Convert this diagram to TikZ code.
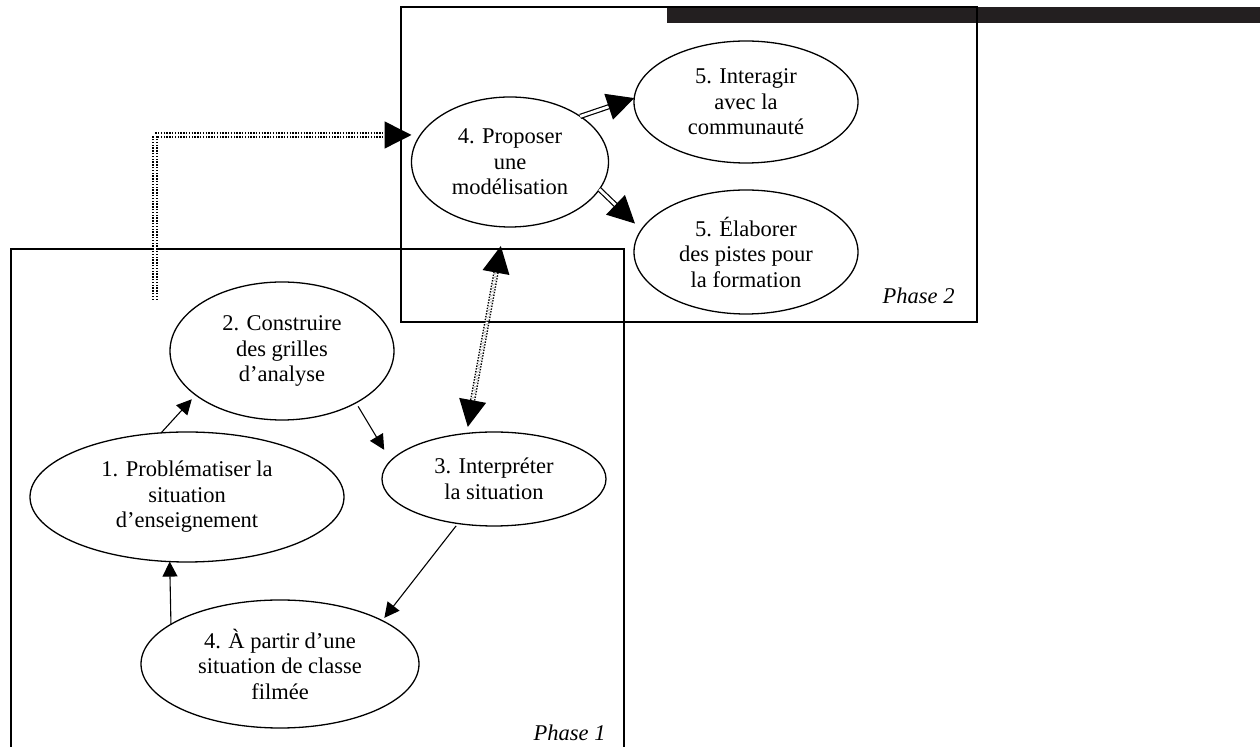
\documentclass[tikz,border=0pt]{standalone}
\usepackage{fontspec}
\setmainfont{Liberation Serif}
\usetikzlibrary{arrows.meta,shapes.geometric}
\definecolor{barc}{HTML}{231F20}
\begin{document}
\begin{tikzpicture}[x=0.5pt,y=-0.5pt,
  txt/.style={font=\fontsize{11.25pt}{12.75pt}\selectfont},
  ell/.style={txt, draw, ellipse, line width=0.65pt, inner sep=0pt, outer sep=0pt, align=center},
  frame/.style={draw, line width=0.7pt},
  thinarr/.style={line width=0.55pt, -{Triangle[length=7.5pt,width=7.5pt]}},
  dots/.style={double, double distance=1.3pt, line width=0.7pt, dash pattern=on 0.7pt off 0.7pt},
  twin/.style={double, double distance=1.4pt, line width=0.6pt},
  bighead/.style={-{Triangle[length=13.5pt,width=13.5pt]}},
  bothheads/.style={{Triangle[length=13.5pt,width=13.5pt]}-{Triangle[length=13.5pt,width=13.5pt]}},
  midhead/.style={-{Triangle[length=13.5pt,width=13.5pt]}}
]
\useasboundingbox (0,0) rectangle (1260,747);

% frames and bar
\fill[barc] (667,7) rectangle (1260,23);
\draw[frame] (401,7) rectangle (977,322);
\draw[frame] (11,747) -- (11,249) -- (624,249) -- (624,747);

% nodes
\node[ell, minimum width=98.5pt, minimum height=65pt] (e4) at (510,162) {4. Proposer\\une\\modélisation};
\node[ell, minimum width=112pt, minimum height=61pt] (e5a) at (746,102) {5. Interagir\\avec la\\communauté};
\node[ell, minimum width=112pt, minimum height=62pt] (e5b) at (746,252) {5. Élaborer\\des pistes pour\\la formation};
\node[ell, minimum width=112pt, minimum height=69pt] (e2) at (282,351) {2. Construire\\des grilles\\d’analyse};
\node[ell, minimum width=112pt, minimum height=47pt] (e3) at (494,479) {3. Interpréter\\la situation};
\node[ell, minimum width=157pt, minimum height=65pt] (e1) at (187,497) {1. Problématiser la\\situation\\d’enseignement};
\node[ell, minimum width=139pt, minimum height=64pt] (e4b) at (280,664) {4. À partir d’une\\situation de classe\\filmée};

\node[txt, anchor=east, inner sep=0pt] (ph2) at (955,296) {\textit{Phase 2}};
\node[txt, anchor=east, inner sep=0pt] (ph1) at (606,733) {\textit{Phase 1}};

% thin connectors
\draw[thinarr, shorten >=2.9pt] (e1.112.6) -- (e2.207.9);
\draw[thinarr, shorten <=2.1pt, shorten >=6.4pt] (e2.-35.7) -- (e3.170.8);
\draw[thinarr, shorten <=1.5pt, shorten >=1.75pt] (e3.231.8) -- (e4b.23.6);
\draw[thinarr] (e4b.160.5) -- (e1.255.7);

% dotted connectors
\draw[dots, bothheads, shorten <=9.7pt, shorten >=3.3pt] (e4.265.2) -- (e3.121.8);
\coordinate (dstart) at (155,300);
\coordinate (dcorner) at (155,135);
\draw[dots, bighead] (dstart) -- (dcorner) -- (dcorner -| e4.west);

% double connectors
\draw[twin, midhead] (e4.33.9) -- (e5a.178);
\draw[twin, midhead, shorten >=4.5pt] (e4.-17.7) -- (e5b.168.9);
\end{tikzpicture}
\end{document}
